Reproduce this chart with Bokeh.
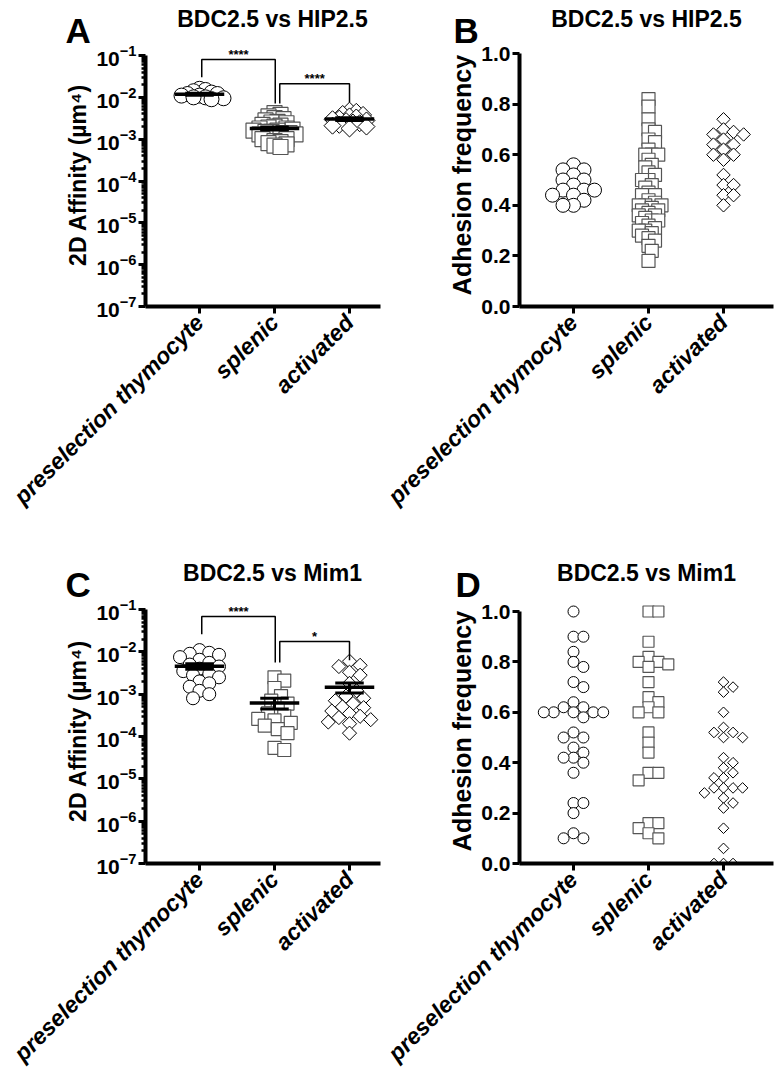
import numpy as np
from math import pi, sqrt
from bokeh.plotting import figure
from bokeh.layouts import column, row
from bokeh.models import Range1d, FixedTicker, Label, NumeralTickFormatter
from bokeh.core.properties import value
from bokeh.embed import file_html
from bokeh.resources import INLINE

FONT = "Liberation Sans"

categories = ["preselection thymocyte", "splenic", "activated"]

# ---------------- Panel A : 2D affinity, BDC2.5 vs HIP2.5 ----------------
a_title = "BDC2.5 vs HIP2.5"
a_thymocyte = [0.016, 0.015, 0.014, 0.013, 0.012, 0.012, 0.011, 0.011, 0.010, 0.010, 0.0095, 0.009]
a_splenic = [0.0042, 0.0038, 0.0035, 0.0032, 0.003, 0.0028, 0.0026, 0.0025, 0.0024, 0.0022,
             0.0021, 0.002, 0.0019, 0.0018, 0.0018, 0.0017, 0.0016, 0.0016, 0.0015, 0.0015,
             0.0014, 0.0014, 0.0013, 0.0013, 0.0012, 0.0012, 0.0011, 0.001, 0.001, 0.0009,
             0.00085, 0.0008, 0.00075, 0.0007, 0.00065]
a_activated = [0.0048, 0.0045, 0.004, 0.0038, 0.0035, 0.0033, 0.0031, 0.003, 0.0028, 0.0027,
               0.0025, 0.0024, 0.0022, 0.0021, 0.002, 0.0018]
# brackets: (x_left, x_right, y_left_bottom, y_top, y_right_bottom, stars)
a_brackets = [(1.03, 2.01, 0.03, 0.08, 0.0071, "****"),
              (2.07, 3.0, 0.0071, 0.021, 0.0075, "****")]

# ---------------- Panel B : adhesion frequency, BDC2.5 vs HIP2.5 ----------------
b_title = "BDC2.5 vs HIP2.5"
b_thymocyte = [0.56, 0.54, 0.54, 0.52, 0.50, 0.50, 0.48, 0.46, 0.46, 0.46, 0.44, 0.44, 0.42, 0.40, 0.40]
b_splenic = [0.82, 0.79, 0.74, 0.70, 0.69, 0.66, 0.65, 0.62, 0.60, 0.60, 0.60, 0.58, 0.56, 0.55,
             0.53, 0.52, 0.50, 0.50, 0.48, 0.47, 0.45, 0.44, 0.44, 0.42, 0.41, 0.40, 0.40, 0.40,
             0.39, 0.38, 0.38, 0.37, 0.36, 0.36, 0.35, 0.34, 0.34, 0.33, 0.32, 0.31, 0.30, 0.30,
             0.29, 0.28, 0.27, 0.26, 0.24, 0.22, 0.18]
b_activated = [0.74, 0.70, 0.69, 0.68, 0.68, 0.66, 0.64, 0.64, 0.62, 0.60, 0.60, 0.58, 0.52,
               0.48, 0.48, 0.44, 0.44, 0.40]

# ---------------- Panel C : 2D affinity, BDC2.5 vs Mim1 ----------------
c_title = "BDC2.5 vs Mim1"
c_thymocyte = [0.011, 0.0095, 0.009, 0.0085, 0.0075, 0.0065, 0.0055, 0.005, 0.0045, 0.004,
               0.0035, 0.003, 0.0028, 0.0025, 0.002, 0.0018, 0.0015, 0.0012, 0.001, 0.0008]
c_splenic = [0.0025, 0.0021, 0.0014, 0.0009, 0.0007, 0.0006, 0.00045, 0.00035, 0.0003, 0.00026,
             0.00024, 0.00021, 0.00018, 0.00015, 0.00012, 0.000054, 0.000048]
c_activated = [0.006, 0.0048, 0.0045, 0.0033, 0.0028, 0.0018, 0.0012, 0.0009, 0.0008, 0.0007,
               0.0006, 0.0005, 0.00048, 0.0004, 0.00035, 0.0003, 0.00028, 0.00025, 0.00022,
               0.0002, 0.00012]
c_brackets = [(1.03, 2.01, 0.026, 0.068, 0.0056, "****"),
              (2.07, 3.0, 0.0056, 0.0175, 0.0063, "*")]

# ---------------- Panel D : adhesion frequency, BDC2.5 vs Mim1 ----------------
d_title = "BDC2.5 vs Mim1"
d_thymocyte = [1.0, 0.90, 0.90, 0.84, 0.80, 0.78, 0.72, 0.70, 0.64, 0.62, 0.62, 0.60, 0.60, 0.60,
               0.60, 0.60, 0.58, 0.52, 0.50, 0.50, 0.46, 0.44, 0.42, 0.42, 0.40, 0.36, 0.24, 0.24,
               0.20, 0.12, 0.10, 0.10]
d_splenic = [1.0, 1.0, 0.88, 0.82, 0.80, 0.80, 0.79, 0.78, 0.72, 0.66, 0.64, 0.62, 0.60, 0.60,
             0.52, 0.48, 0.44, 0.36, 0.36, 0.33, 0.16, 0.16, 0.14, 0.12, 0.10]
d_activated = [0.72, 0.70, 0.68, 0.60, 0.54, 0.52, 0.52, 0.50, 0.50, 0.42, 0.40, 0.38, 0.36, 0.34,
               0.34, 0.30, 0.30, 0.30, 0.30, 0.28, 0.26, 0.24, 0.22, 0.14, 0.06, 0.0, 0.0, 0.0]

panel_letters = ["A", "B", "C", "D"]
affinity_label = "2D Affinity (\u00b5m\u2074)"
adhesion_label = "Adhesion frequency"

X_START = 0.28
PPX = 75.0   # pixels per category step
PAGE_W = 775


def swarm(vals, log, ppu, diam, sep_frac, step_frac):
    vals = np.asarray(vals, dtype=float)
    py = np.log10(vals) * ppu if log else vals * ppu
    order = np.argsort(-py, kind="stable")
    sep = diam * sep_frac
    step = diam * step_frac
    cands = [0.0]
    for j in range(1, 80):
        cands += [j * step, -j * step]
    px_l, py_l = [], []
    offs = np.zeros(len(py))
    for i in order:
        chosen = 0.0
        for c in cands:
            ok = True
            for a, b in zip(px_l, py_l):
                if (c - a) ** 2 + (py[i] - b) ** 2 < sep ** 2:
                    ok = False
                    break
            if ok:
                chosen = c
                break
        px_l.append(chosen)
        py_l.append(py[i])
        offs[i] = chosen / PPX
    return offs


def make_header(height, titles, title_x, title_y, letters, letter_x, letter_y):
    h = figure(width=PAGE_W, height=height, x_range=Range1d(0, PAGE_W), y_range=Range1d(height, 0),
               x_axis_location=None, y_axis_location=None, min_border=0,
               output_backend="svg", toolbar_location=None)
    h.outline_line_color = None
    h.xgrid.visible = False
    h.ygrid.visible = False
    h.background_fill_color = "white"
    h.border_fill_color = "white"
    h.text(x=title_x, y=title_y, text=titles, text_font=value(FONT), text_font_size="23px",
           text_font_style="bold", text_align="center", text_baseline="alphabetic",
           text_color="black")
    h.text(x=letter_x, y=letter_y, text=letters, text_font=value(FONT), text_font_size="35px",
           text_font_style="bold", text_align="left", text_baseline="alphabetic",
           text_color="black")
    return h


def make_panel(cfg):
    log = cfg["log"]
    fh = cfg["frame_h"]
    fw = cfg["frame_w"]
    ppu = cfg["ppu"]
    pad = cfg["pad"]
    if log:
        yr = Range1d(1e-7, 10 ** (-1 + pad / ppu))
    else:
        yr = Range1d(0, 1 + pad / ppu)
    x_end = X_START + fw / PPX
    p = figure(x_range=Range1d(X_START, x_end), y_range=yr,
               y_axis_type="log" if log else "linear",
               frame_width=fw, frame_height=fh,
               min_border_left=cfg["bl"], min_border_right=cfg["br"],
               min_border_top=0, min_border_bottom=cfg["bb"],
               output_backend="svg", toolbar_location=None)
    p.outline_line_color = None
    p.xgrid.visible = False
    p.ygrid.visible = False
    p.background_fill_color = "white"
    p.border_fill_color = "white"

    # series
    markers = ["circle", "square", "diamond"]
    for k, (vals, mk) in enumerate(zip(cfg["series"], markers)):
        d = cfg["sizes"][k]
        offs = swarm(vals, log, ppu, d if mk != "diamond" else d * sqrt(2),
                     cfg["sep"][k], cfg["step"])
        xs = (k + 1) + offs
        if mk == "diamond":
            p.scatter(xs, vals, marker="square", angle=pi / 4, size=d,
                      fill_color="white", line_color="black", line_width=1)
        elif mk == "square":
            p.scatter(xs, vals, marker="square", size=d,
                      fill_color="white", line_color="#555555", line_width=1.2)
        else:
            p.scatter(xs, vals, marker="circle", size=d,
                      fill_color="white", line_color="black", line_width=1)

    # mean +- SEM
    if cfg.get("mean"):
        for k, vals in enumerate(cfg["series"]):
            v = np.asarray(vals, dtype=float)
            m = v.mean()
            s = v.std(ddof=1) / np.sqrt(len(v))
            x = k + 1
            p.segment([x - 0.33], [m], [x + 0.33], [m], line_color="black", line_width=3.5)
            p.segment([x - 0.19, x - 0.19], [m - s, m + s], [x + 0.19, x + 0.19], [m - s, m + s],
                      line_color="black", line_width=3)
            p.segment([x], [m - s], [x], [m + s], line_color="black", line_width=3)

    # significance brackets
    for (xl, xr, yl, yt, yrb, stars) in cfg.get("brackets", []):
        p.line([xl, xl, xr, xr], [yl, yt, yt, yrb], line_color="black", line_width=1.5)
        p.add_layout(Label(x=(xl + xr) / 2, y=yt, y_offset=5, text=stars,
                           text_font=FONT, text_font_size="13px", text_font_style="bold",
                           text_align="center", text_baseline="alphabetic",
                           text_color="black"))

    # axes
    xa = p.xaxis[0]
    ya = p.yaxis[0]
    for ax in (xa, ya):
        ax.axis_line_width = 4
        ax.axis_line_color = "black"
        ax.major_tick_line_width = 3
        ax.major_tick_line_color = "black"
        ax.major_tick_in = 0
        ax.major_tick_out = 7
        ax.minor_tick_in = 0
        ax.major_label_text_font = FONT
        ax.major_label_text_color = "black"
        ax.axis_label_text_font = FONT
        ax.axis_label_text_color = "black"
        ax.axis_label_text_font_style = "bold"
    xa.ticker = FixedTicker(ticks=[1, 2, 3])
    xa.major_label_overrides = {1: categories[0], 2: categories[1], 3: categories[2]}
    xa.major_label_orientation = pi / 4
    xa.major_label_text_font_size = "23px"
    xa.major_label_text_font_style = "bold italic"
    xa.major_label_standoff = 5
    xa.minor_tick_out = 0

    ya.major_label_text_font_size = "21px"
    ya.major_label_text_font_style = "bold"
    ya.major_label_standoff = 2
    ya.axis_label_standoff = 2
    if log:
        ya.ticker = FixedTicker(ticks=[10.0 ** e for e in range(-7, 0)],
                                minor_ticks=[k * 10.0 ** e for e in range(-7, -1) for k in range(2, 10)])
        ya.bounds = (1e-7, 1e-1)
        ya.minor_tick_out = 4
        ya.minor_tick_line_width = 2.5
        ya.minor_tick_line_color = "black"
        ya.axis_label = affinity_label
        ya.axis_label_text_font_size = "23px"
    else:
        ya.ticker = FixedTicker(ticks=[0, 0.2, 0.4, 0.6, 0.8, 1.0])
        ya.formatter = NumeralTickFormatter(format="0.0")
        ya.bounds = (0, 1)
        ya.minor_tick_out = 0
        ya.axis_label = adhesion_label
        ya.axis_label_text_font_size = "25px"
    return p


# row 1: header strip, then frames
h1 = make_header(43, [a_title, b_title], [272, 646], [18, 18],
                 panel_letters[:2], [65, 453], [30, 30])
pA = make_panel(dict(log=True, frame_w=235, frame_h=263, ppu=251 / 6, pad=12,
                     bl=145, br=2, bb=242,
                     series=[a_thymocyte, a_splenic, a_activated], sizes=[15, 15, 12],
                     sep=[0.4, 0.3, 0.33], step=0.2, mean=True, brackets=a_brackets))
pB = make_panel(dict(log=False, frame_w=254, frame_h=263, ppu=253, pad=10,
                     bl=137, br=2, bb=242,
                     series=[b_thymocyte, b_splenic, b_activated], sizes=[14, 13, 9.5],
                     sep=[0.65, 0.42, 0.75], step=0.25, mean=False))

# row 2: header strip, then frames
h2 = make_header(50, [c_title, d_title], [272, 646], [24, 24],
                 panel_letters[2:], [65, 455], [36, 36])
pC = make_panel(dict(log=True, frame_w=235, frame_h=265, ppu=254 / 6, pad=11,
                     bl=145, br=2, bb=222,
                     series=[c_thymocyte, c_splenic, c_activated], sizes=[13, 13, 10],
                     sep=[0.65, 0.7, 0.65], step=0.25, mean=True, brackets=c_brackets))
pD = make_panel(dict(log=False, frame_w=254, frame_h=265, ppu=252, pad=13,
                     bl=137, br=2, bb=222,
                     series=[d_thymocyte, d_splenic, d_activated], sizes=[11, 11, 7.5],
                     sep=[0.9, 0.9, 0.9], step=0.9, mean=False))

layout = column(h1, row(pA, pB, spacing=0), h2, row(pC, pD, spacing=0), spacing=0)
open("out.html", "w").write(file_html(layout, INLINE))
